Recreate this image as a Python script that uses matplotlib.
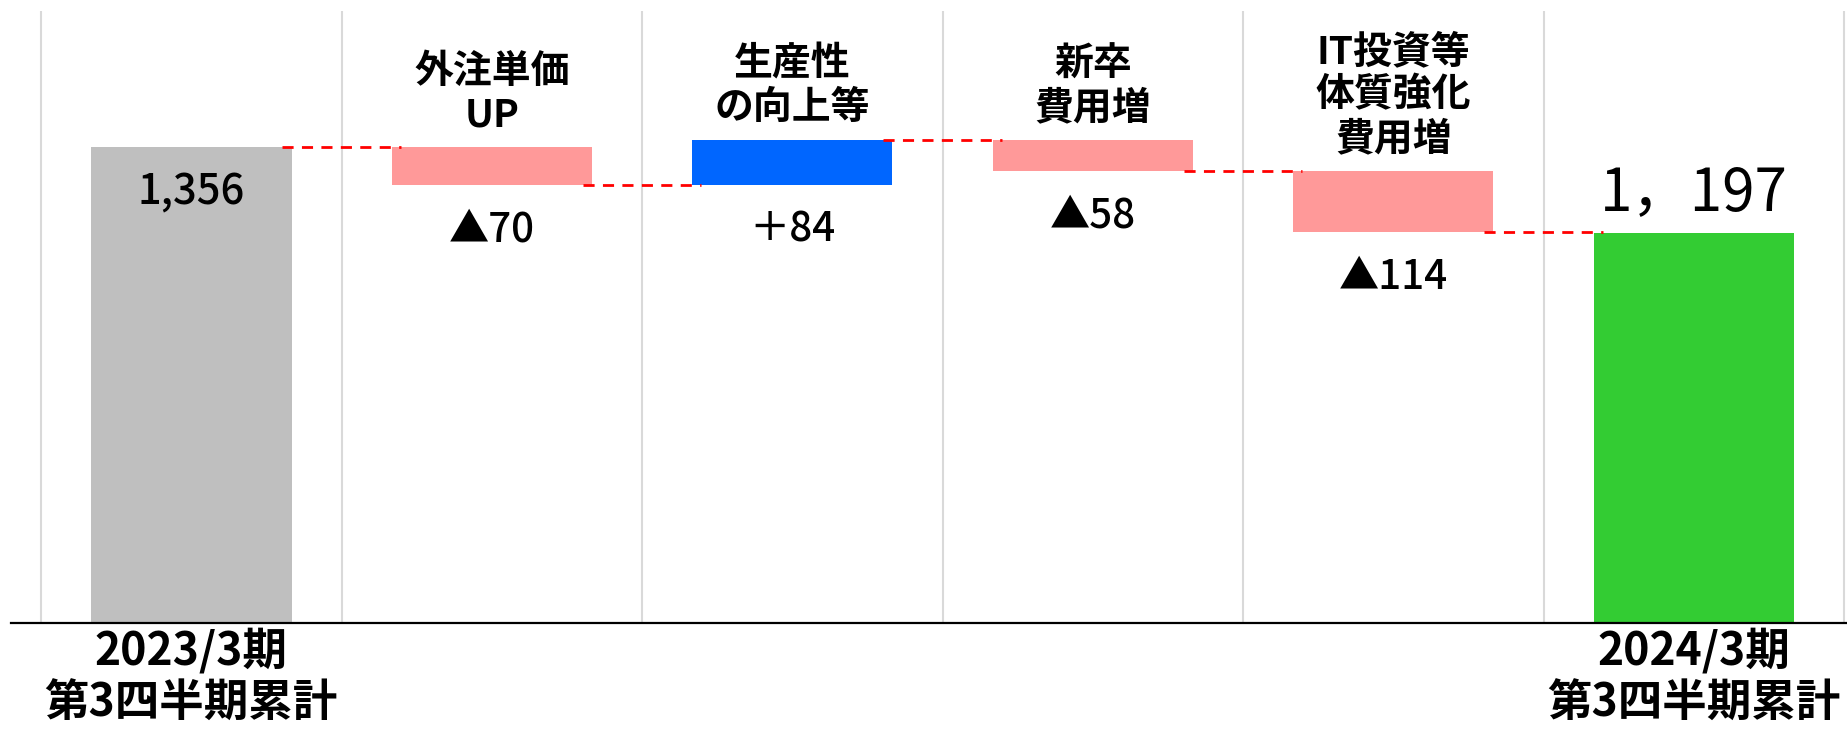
import matplotlib
matplotlib.use("Agg")
import matplotlib.pyplot as plt
import numpy as np

plt.rcParams['font.family'] = ['Noto Sans CJK JP', 'DejaVu Sans']

# data
start_label = '2023/3期\n第3四半期累計'
end_label = '2024/3期\n第3四半期累計'
step_labels = ['外注単価\nUP', '生産性\nの向上等', '新卒\n費用増', 'IT投資等\n体質強化\n費用増']
start_value = 1356
changes = [-70, 84, -58, -114]
change_texts = ['▲70', '＋84', '▲58', '▲114']
end_value = 1197
start_text = '1,356'
end_text = '1，197'

gray = '#BFBFBF'
pink = '#FF9999'
blue = '#0066FF'
green = '#33CC33'

fig = plt.figure(figsize=(18.47, 7.32), dpi=100)
ax = fig.add_axes([11 / 1847, 109 / 732, 1836 / 1847, 612 / 732])

width = 0.667

# running totals for the floating bars
levels = np.concatenate([[start_value], start_value + np.cumsum(changes)])
n = len(changes)
xs = np.arange(n + 2)

ax.bar(0, start_value, width=width, color=gray, zorder=2)
ax.bar(n + 1, end_value, width=width, color=green, zorder=2)
for i, d in enumerate(changes):
    lo = min(levels[i], levels[i + 1])
    ax.bar(i + 1, abs(d), bottom=lo, width=width,
           color=blue if d > 0 else pink, zorder=2)

# dashed connectors between bars
for i in range(n + 1):
    y = levels[i]
    ax.plot([i + width / 2 - 0.03, i + 1 - width / 2 + 0.03], [y, y],
            color='#FF0000', lw=2, ls=(0, (4, 3)), zorder=3)

# labels for the step bars
for i, d in enumerate(changes):
    hi = max(levels[i], levels[i + 1])
    lo = min(levels[i], levels[i + 1])
    ax.annotate(step_labels[i], (i + 1, hi), xytext=(0, 9), textcoords='offset points',
                ha='center', va='bottom', multialignment='center',
                fontsize=28, fontweight='bold', linespacing=1.15)
    ax.annotate(change_texts[i], (i + 1, lo), xytext=(0, -18), textcoords='offset points',
                ha='center', va='top', fontsize=29, fontweight='medium')

ax.annotate(start_text, (0, start_value), xytext=(0, -32), textcoords='offset points',
            ha='center', va='center', fontsize=30, fontweight='medium')
ax.annotate(end_text, (n + 1, end_value), xytext=(0, 28), textcoords='offset points',
            ha='center', va='center', fontsize=42)

ax.set_xlim(-0.6, n + 1.51)
ax.set_ylim(471, 1609)

ax.set_xticks(xs, [start_label, '', '', '', '', end_label],
              fontsize=32, fontweight='bold', linespacing=1.18)
ax.tick_params(axis='x', length=0, pad=4)
ax.set_xticks(np.arange(-0.5, n + 2), minor=True)
ax.tick_params(axis='x', which='minor', length=0)
ax.grid(which='minor', axis='x', color='#D9D9D9', lw=1.5, zorder=0)
ax.set_yticks([])

for s in ['top', 'left', 'right']:
    ax.spines[s].set_visible(False)
ax.spines['bottom'].set_linewidth(1.6)
ax.spines['bottom'].set_zorder(4)

fig.savefig('out.png', dpi=100)
